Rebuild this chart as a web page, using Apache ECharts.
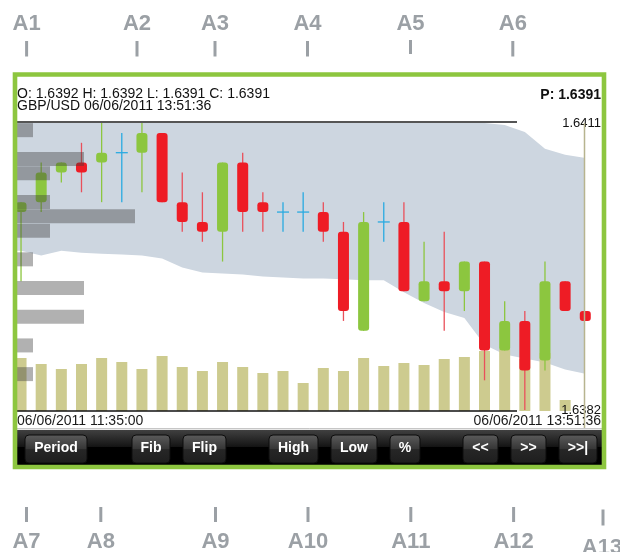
<!DOCTYPE html>
<html>
<head>
<meta charset="utf-8">
<title>GBP/USD</title>
<script src="https://cdn.jsdelivr.net/npm/echarts@6/dist/echarts.min.js"></script>
<style>
html, body { margin: 0; padding: 0; background: #fff; }
#chart { width: 620px; height: 552px; }
</style>
</head>
<body>
<div id="chart"></div>
<script>
// ---- data ----
var symbol = 'GBP/USD';
var timeStart = '06/06/2011 11:35:00';
var timeEnd = '06/06/2011 13:51:36';

// one candle per slot, oldest first
var opens  = [1.6402, 1.6403, 1.6406, 1.6407, 1.6407, 1.6408, 1.6408, 1.6410, 1.6403, 1.6401,
              1.6400, 1.6407, 1.6403, 1.6402, 1.6402, 1.6402, 1.6400, 1.6390, 1.6401, 1.6401,
              1.6393, 1.6395, 1.6394, 1.6397, 1.6388, 1.6391, 1.6387, 1.6395, 1.6392];
var closes = [1.6403, 1.6406, 1.6407, 1.6406, 1.6408, 1.6408, 1.6410, 1.6403, 1.6401, 1.6400,
              1.6407, 1.6402, 1.6402, 1.6402, 1.6402, 1.6400, 1.6392, 1.6401, 1.6401, 1.6394,
              1.6395, 1.6394, 1.6397, 1.6388, 1.6391, 1.6386, 1.6395, 1.6392, 1.6391];
var lows   = [1.6395, 1.6402, 1.6405, 1.6404, 1.6403, 1.6403, 1.6404, 1.6403, 1.6400, 1.6399,
              1.6397, 1.6400, 1.6400, 1.6400, 1.6400, 1.6399, 1.6391, 1.6390, 1.6399, 1.6394,
              1.6393, 1.6390, 1.6392, 1.6385, 1.6388, 1.6382, 1.6386, 1.6392, 1.6391];
var highs  = [1.6403, 1.6407, 1.6407, 1.6409, 1.6411, 1.6410, 1.6411, 1.6410, 1.6406, 1.6404,
              1.6407, 1.6408, 1.6404, 1.6403, 1.6404, 1.6403, 1.6401, 1.6402, 1.6403, 1.6403,
              1.6399, 1.6400, 1.6397, 1.6397, 1.6393, 1.6392, 1.6397, 1.6395, 1.6392];
var volumes = [53, 47, 42, 47, 53, 49, 42, 55, 44, 40, 49, 44, 38, 40, 28, 43, 40, 53, 45, 48,
               46, 52, 54, 60, 62, 52, 58, 11, 0];

// cloud band, sampled at candle slots
var cloudX = [-0.2, 0, 1, 2, 3, 4, 5, 6, 7, 8, 9, 10, 11, 12, 13, 14, 15, 16, 17, 18, 19,
              20, 21, 22, 23, 24, 25, 26, 27, 27.94];
var cloudTop = [1.6411, 1.6411, 1.6411, 1.6411, 1.6411, 1.6411, 1.6411, 1.6411, 1.6411, 1.6411,
                1.6411, 1.6411, 1.6411, 1.6411, 1.6411, 1.6411, 1.6411, 1.6411, 1.6411, 1.6411,
                1.6411, 1.6411, 1.6411, 1.6411, 1.6411, 1.64108, 1.64101, 1.64084, 1.64078, 1.64075];
var cloudBottom = [1.63981, 1.63981, 1.63976, 1.63981, 1.63979, 1.63978, 1.63977, 1.63976, 1.63973, 1.63964,
                   1.63959, 1.63958, 1.63957, 1.63955, 1.63954, 1.63953, 1.63953, 1.63952, 1.63951, 1.63951,
                   1.63939, 1.63928, 1.63919, 1.63913, 1.63886, 1.63876, 1.63872, 1.63868, 1.63861, 1.63857];

// volume at price, 20 bins from the top price down
var profileCounts = [1, 0, 4, 2, 0, 2, 7, 2, 0, 1, 0, 4, 0, 4, 0, 1, 0, 1, 0, 0];

var priceTicks = [1.6382, 1.6411];

// ---- style ----
var FONT = '"Liberation Sans", Arial, sans-serif';
var GREEN = '#8cc63f';
var RED = '#ee1c25';
var RED_WICK = '#e9505b';
var BLUE = '#29aae1';
var NOTE_GRAY = '#9ba0a5';

var myChart = echarts.init(document.getElementById('chart'));

var last = opens.length - 1;
var f4 = function (v) { return v.toFixed(4); };
var header = 'O: ' + f4(opens[last]) + ' H: ' + f4(highs[last]) + ' L: ' + f4(lows[last]) +
             ' C: ' + f4(closes[last]) + '\n' + symbol + ' ' + timeEnd;

var candleData = opens.map(function (o, i) {
    return [i, o, closes[i], lows[i], highs[i]];
});

function renderCandle(params, api) {
    var i = api.value(0);
    var o = api.value(1), c = api.value(2), l = api.value(3), h = api.value(4);
    var pO = api.coord([i, o]);
    var pC = api.coord([i, c]);
    var pL = api.coord([i, l]);
    var pH = api.coord([i, h]);
    var x = pO[0];
    if (o === c) {
        return {
            type: 'group',
            children: [
                {type: 'line', shape: {x1: x, y1: pH[1], x2: x, y2: pL[1]}, style: {stroke: BLUE, lineWidth: 1.3}},
                {type: 'line', shape: {x1: x - 6, y1: pO[1], x2: x + 6, y2: pO[1]}, style: {stroke: BLUE, lineWidth: 1.3}}
            ]
        };
    }
    var up = c > o;
    var top = Math.min(pO[1], pC[1]);
    var bot = Math.max(pO[1], pC[1]);
    return {
        type: 'group',
        children: [
            {type: 'line', shape: {x1: x, y1: pH[1], x2: x, y2: pL[1]},
             style: {stroke: up ? GREEN : RED_WICK, lineWidth: 1.3}},
            {type: 'rect', shape: {x: x - 5.5, y: top, width: 11, height: bot - top, r: 3},
             style: {fill: up ? GREEN : RED}}
        ]
    };
}

// whole band drawn once as one polygon
function renderCloud(params, api) {
    if (params.dataIndex !== 0) return null;
    var pts = [];
    for (var i = 0; i < cloudX.length; i++) {
        pts.push(api.coord([cloudX[i], cloudTop[i]]));
    }
    for (var j = cloudX.length - 1; j >= 0; j--) {
        pts.push(api.coord([cloudX[j], cloudBottom[j]]));
    }
    return {type: 'polygon', shape: {points: pts}, style: {fill: '#cdd6e0'}};
}

// ---- chrome (frame, toolbar, callouts) ----
var graphics = [];

function addText(txt, x, y, font, color, align) {
    graphics.push({
        type: 'text', z: 60,
        style: {text: txt, x: x, y: y, font: font, fill: color,
                textAlign: align || 'center', textVerticalAlign: 'middle'}
    });
}

// time-range lines
graphics.push({type: 'line', z: 50, shape: {x1: 17, y1: 122, x2: 517, y2: 122}, style: {stroke: '#555', lineWidth: 2}});
graphics.push({type: 'line', z: 50, shape: {x1: 17, y1: 411, x2: 517, y2: 411}, style: {stroke: '#111', lineWidth: 1.5}});
// current-time marker
graphics.push({type: 'line', z: 50, shape: {x1: 584.5, y1: 123, x2: 584.5, y2: 428}, style: {stroke: '#b7b48f', lineWidth: 1.5}});
// separator above toolbar
graphics.push({type: 'line', z: 50, shape: {x1: 17, y1: 428.8, x2: 602, y2: 428.8}, style: {stroke: '#b0b0b0', lineWidth: 1}});

addText(timeStart, 17, 421, '14px ' + FONT, '#1a1a1a', 'left');
addText(timeEnd, 601, 421, '14px ' + FONT, '#1a1a1a', 'right');

// toolbar
graphics.push({
    type: 'rect', z: 20,
    shape: {x: 17, y: 430, width: 585, height: 35},
    style: {fill: new echarts.graphic.LinearGradient(0, 0, 0, 1, [
        {offset: 0, color: '#404040'}, {offset: 0.48, color: '#141414'},
        {offset: 0.5, color: '#000'}, {offset: 1, color: '#000'}])}
});
var buttons = [
    ['Period', 25, 87], ['Fib', 132, 170], ['Flip', 183, 226], ['High', 269, 318],
    ['Low', 331, 377], ['%', 390, 420], ['<<', 463, 498], ['>>', 511, 546], ['>>|', 559, 597]
];
buttons.forEach(function (b) {
    graphics.push({
        type: 'rect', z: 21,
        shape: {x: b[1], y: 435, width: b[2] - b[1], height: 28, r: 4},
        style: {
            fill: new echarts.graphic.LinearGradient(0, 0, 0, 1, [
                {offset: 0, color: '#5c5c5c'}, {offset: 0.5, color: '#363636'},
                {offset: 0.52, color: '#262626'}, {offset: 1, color: '#1e1e1e'}]),
            stroke: '#0c0c0c', lineWidth: 1
        }
    });
    addText(b[0], (b[1] + b[2]) / 2, 448.5, 'bold 14px ' + FONT, '#fff');
});

// green frame
graphics.push({
    type: 'rect', z: 100,
    shape: {x: 15, y: 74.5, width: 589, height: 392.5},
    style: {fill: 'none', stroke: '#8dc63f', lineWidth: 4.6}
});

// callouts
var topNotes = [['A1', 26.6], ['A2', 137], ['A3', 215], ['A4', 307.5], ['A5', 410.5], ['A6', 512.8]];
var bottomNotes = [['A7', 26.5], ['A8', 100.8], ['A9', 215.5], ['A10', 308], ['A11', 410.8], ['A12', 513.6]];
topNotes.forEach(function (n) {
    addText(n[0], n[1], 23.5, 'bold 22px ' + FONT, NOTE_GRAY);
    graphics.push({type: 'rect', z: 60, shape: {x: n[1] - 1.5, y: n[0] === 'A5' ? 40 : 41, width: 3, height: n[0] === 'A5' ? 14 : 15.5},
                   style: {fill: NOTE_GRAY}});
});
bottomNotes.forEach(function (n) {
    addText(n[0], n[1], 541.5, 'bold 22px ' + FONT, NOTE_GRAY);
    graphics.push({type: 'rect', z: 60, shape: {x: n[1] - 1.5, y: 507, width: 3, height: 15}, style: {fill: NOTE_GRAY}});
});
addText('A13', 602, 548, 'bold 22px ' + FONT, NOTE_GRAY);
graphics.push({type: 'rect', z: 60, shape: {x: 601.5, y: 509.5, width: 3, height: 16}, style: {fill: NOTE_GRAY}});

// ---- chart ----
var option = {
    animation: false,
    backgroundColor: '#fff',
    title: [
        {text: header, left: 17, top: 88, padding: 0,
         textStyle: {fontSize: 14, lineHeight: 12, fontWeight: 'normal', color: '#111', fontFamily: FONT}},
        {text: 'P: ' + f4(closes[last]), right: 19, top: 88, padding: 0,
         textStyle: {fontSize: 14, lineHeight: 14, fontWeight: 'bold', color: '#111', fontFamily: FONT}}
    ],
    grid: [
        {left: 17, right: 19, top: 123, height: 287},
        {left: 17, right: 19, top: 123, height: 288},
        {left: 16, top: 123, height: 287, width: 510}
    ],
    xAxis: [
        {gridIndex: 0, type: 'value', min: -0.2, max: 28.78, show: false},
        {gridIndex: 1, type: 'value', min: -0.2, max: 28.78, show: false},
        {gridIndex: 2, type: 'value', min: 0, max: 30, show: false}
    ],
    yAxis: [
        {gridIndex: 0, type: 'value', min: 1.6382, max: 1.6411, position: 'right', z: 30,
         axisLine: {show: false}, axisTick: {show: false}, splitLine: {show: false},
         axisLabel: {inside: true, margin: 0, customValues: priceTicks, formatter: f4,
                     padding: [0, 0, 6, 0],
                     color: '#111', fontSize: 13, fontFamily: FONT}},
        {gridIndex: 1, type: 'value', min: 0, max: 288, show: false},
        {gridIndex: 2, type: 'category', inverse: true, show: false,
         data: profileCounts.map(function (c, i) { return String(i); })}
    ],
    series: [
        {type: 'custom', xAxisIndex: 0, yAxisIndex: 0, z: 1, silent: true,
         renderItem: renderCloud, encode: {x: 0, y: [1, 2]},
         data: cloudX.map(function (x, i) { return [x, cloudTop[i], cloudBottom[i]]; })},
        {type: 'bar', xAxisIndex: 1, yAxisIndex: 1, z: 2, barWidth: 11,
         itemStyle: {color: '#cdcb8f'},
         data: volumes.map(function (v, i) { return [i, v]; })},
        {type: 'custom', xAxisIndex: 0, yAxisIndex: 0, z: 3,
         renderItem: renderCandle, encode: {x: 0, y: [1, 2, 3, 4]}, data: candleData},
        {type: 'bar', xAxisIndex: 2, yAxisIndex: 2, z: 4, barWidth: 14,
         itemStyle: {color: 'rgba(60,60,60,0.4)'}, data: profileCounts}
    ],
    graphic: graphics
};

myChart.setOption(option);
</script>
</body>
</html>
